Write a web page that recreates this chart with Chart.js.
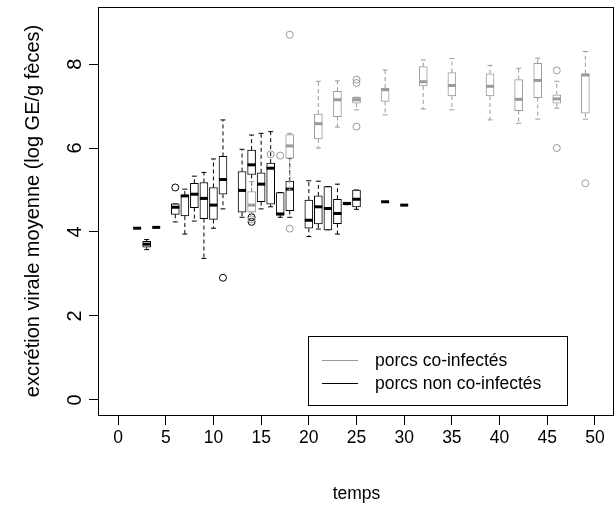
<!DOCTYPE html>
<html><head><meta charset="utf-8">
<script src="https://cdn.jsdelivr.net/npm/chart.js@4"></script>
<style>html,body{margin:0;padding:0;background:#fff;} canvas{display:block;}</style>
</head><body>
<canvas id="c" width="616" height="506"></canvas>
<script>
// ---- data ----
const xTicks = [0, 5, 10, 15, 20, 25, 30, 35, 40, 45, 50];
const yTicks = [0, 2, 4, 6, 8];

// porcs non co-infectés (black)
const blackDays = [2, 3, 4, 6, 7, 8, 9, 10, 11, 13, 14, 15, 16, 17, 18, 20, 21, 22, 23, 24, 25, 28, 30];
const blackMin  = [4.09, 3.58, 4.11, 4.24, 3.95, 4.26, 3.37, 4.09, 4.55, 4.35, 4.50, 4.55, 4.60, 4.35, 4.35, 3.89, 4.07, 4.05, 3.95, 4.65, 4.54, 4.72, 4.64];
const blackQ1   = [4.09, 3.64, 4.11, 4.42, 4.38, 4.58, 4.32, 4.30, 4.90, 4.47, 5.37, 4.72, 4.66, 4.40, 4.51, 4.09, 4.19, 4.05, 4.20, 4.65, 4.60, 4.72, 4.64];
const blackMed  = [4.09, 3.71, 4.11, 4.59, 4.86, 4.90, 4.80, 4.64, 5.25, 4.99, 5.60, 5.14, 5.52, 4.43, 5.02, 4.28, 4.60, 4.56, 4.44, 4.68, 4.78, 4.72, 4.64];
const blackQ3   = [4.09, 3.78, 4.11, 4.67, 4.88, 5.16, 5.18, 5.06, 5.80, 5.44, 5.95, 5.41, 5.64, 4.94, 5.21, 4.76, 4.86, 5.08, 4.78, 4.70, 5.00, 4.72, 4.64];
const blackMax  = [4.09, 3.82, 4.11, 4.67, 5.02, 5.33, 5.42, 5.74, 6.67, 5.97, 6.31, 6.35, 6.39, 4.94, 5.76, 5.22, 5.21, 5.08, 5.14, 4.70, 5.00, 4.72, 4.64];
const blackOutDays = [6, 11, 14, 14];
const blackOutVals = [5.06, 2.91, 4.35, 4.24];

// porcs co-infectés (grey)
const greyDays = [14, 18, 21, 23, 25, 28, 32, 35, 39, 42, 44, 46, 49];
const greyMin  = [4.45, 5.00, 6.00, 6.50, 6.91, 6.79, 6.93, 6.91, 6.67, 6.59, 6.69, 6.95, 6.69];
const greyQ1   = [4.48, 5.76, 6.22, 6.75, 7.07, 7.11, 7.48, 7.24, 7.24, 6.89, 7.20, 7.07, 6.83];
const greyMed  = [4.64, 6.05, 6.58, 7.15, 7.15, 7.39, 7.58, 7.49, 7.47, 7.16, 7.61, 7.17, 7.74];
const greyQ3   = [4.96, 6.32, 6.81, 7.35, 7.21, 7.43, 7.94, 7.80, 7.77, 7.63, 8.02, 7.27, 7.77];
const greyMax  = [5.20, 6.35, 7.59, 7.60, 7.21, 7.86, 8.10, 8.13, 7.97, 7.90, 8.14, 7.59, 8.30];
const greyOutDays = [14, 16, 17, 18, 18, 25, 25, 25, 46, 46, 49];
const greyOutVals = [4.30, 5.85, 5.82, 8.70, 4.08, 7.63, 7.55, 6.51, 7.85, 6.00, 5.16];

const legendLabels = ['porcs co-infectés', 'porcs non co-infectés'];
const BLACK = '#000000';
const GREY = '#9a9a9a';
const FONT = "'Liberation Sans', Arial, sans-serif";

function whiskers(days, mn, q1, q3, mx) {
  const out = [];
  days.forEach((t, i) => {
    out.push({x: t, y: q3[i]}, {x: t, y: mx[i]}, {x: t, y: null});
    out.push({x: t, y: q1[i]}, {x: t, y: mn[i]}, {x: t, y: null});
  });
  return out;
}
function caps(days, mn, mx) {
  const out = [];
  days.forEach((t, i) => { out.push({x: t, y: mn[i]}, {x: t, y: mx[i]}); });
  return out;
}
function groupSets(days, mn, q1, med, q3, mx, od, ov, color, base) {
  return [
    {type: 'line', data: whiskers(days, mn, q1, q3, mx), borderColor: color, borderWidth: 1,
     borderDash: [4, 3], pointRadius: 0, spanGaps: false, fill: false, order: base + 4},
    {type: 'scatter', data: caps(days, mn, mx), pointStyle: 'line', pointRadius: 2.5,
     borderColor: color, borderWidth: 1, order: base + 3},
    {type: 'bar', data: days.map((t, i) => ({x: t, y: [q1[i], q3[i]]})), backgroundColor: '#ffffff',
     borderColor: color, borderWidth: 1, borderSkipped: false, barThickness: 8, grouped: false, order: base + 2},
    {type: 'scatter', data: days.map((t, i) => ({x: t, y: med[i]})), pointStyle: 'line', pointRadius: 4,
     borderColor: color, borderWidth: 3, order: base + 1},
    {type: 'scatter', data: od.map((t, i) => ({x: t, y: ov[i]})), pointStyle: 'circle', pointRadius: 3.5,
     backgroundColor: 'rgba(0,0,0,0)', borderColor: color, borderWidth: 1, order: base}
  ];
}

const datasets = [
  ...groupSets(greyDays, greyMin, greyQ1, greyMed, greyQ3, greyMax, greyOutDays, greyOutVals, GREY, 10),
  ...groupSets(blackDays, blackMin, blackQ1, blackMed, blackQ3, blackMax, blackOutDays, blackOutVals, BLACK, 50)
];

const framePlugin = {
  id: 'frame',
  afterDraw(chart) {
    const {ctx, chartArea: a} = chart;
    ctx.save();
    ctx.strokeStyle = '#000'; ctx.lineWidth = 1;
    ctx.strokeRect(Math.round(a.left) - 0.5, Math.round(a.top) + 0.5, Math.round(a.right - a.left), Math.round(a.bottom - a.top));
    // legend
    const lx = 308.5, ly = 336.5, lw = 259, lh = 69;
    ctx.strokeRect(lx, ly, lw, lh);
    const rows = [[legendLabels[0], GREY, 360], [legendLabels[1], BLACK, 383]];
    ctx.font = '17.5px ' + FONT;
    ctx.textBaseline = 'middle'; ctx.textAlign = 'left';
    rows.forEach(([txt, col, y]) => {
      ctx.strokeStyle = col; ctx.lineWidth = 1;
      ctx.beginPath(); ctx.moveTo(322, y + 0.5); ctx.lineTo(358, y + 0.5); ctx.stroke();
      ctx.fillStyle = '#000';
      ctx.fillText(txt, 375, y + 1);
    });
    ctx.restore();
  }
};

new Chart(document.getElementById('c'), {
  type: 'scatter',
  data: {datasets},
  plugins: [framePlugin],
  options: {
    responsive: false,
    animation: false,
    events: [],
    layout: {autoPadding: false, padding: {top: 7, right: 2, left: 0, bottom: 0}},
    plugins: {legend: {display: false}, tooltip: {enabled: false}},
    scales: {
      x: {
        type: 'linear', min: -2, max: 52, offset: false,
        afterBuildTicks: s => { s.ticks = xTicks.map(v => ({value: v})); },
        afterFit: s => { s.height = 91; s.paddingLeft = 0; s.paddingRight = 0; },
        border: {display: false},
        grid: {drawOnChartArea: false, drawTicks: true, tickLength: 10, color: '#000', offset: false},
        ticks: {color: '#000', font: {family: FONT, size: 17.5}, padding: 3, maxRotation: 0, autoSkip: false},
        title: {display: true, text: 'temps', color: '#000', font: {family: FONT, size: 17.5}, padding: {top: 0, bottom: 1.5}}
      },
      y: {
        type: 'linear', min: -0.36, max: 9.36, beginAtZero: false,
        afterBuildTicks: s => { s.ticks = yTicks.map(v => ({value: v})); },
        afterFit: s => { s.width = 99; s.paddingTop = 0; s.paddingBottom = 0; },
        border: {display: false},
        grid: {drawOnChartArea: false, drawTicks: true, tickLength: 10, color: '#000'},
        ticks: {color: '#000', font: {family: FONT, size: 20}, padding: 8, minRotation: 90, maxRotation: 90, crossAlign: 'center', autoSkip: false},
        title: {display: true, text: 'excrétion virale moyenne (log GE/g fèces)', color: '#000', font: {family: FONT, size: 20}, padding: {top: 21, bottom: 0}}
      }
    }
  }
});
</script>
</body></html>
